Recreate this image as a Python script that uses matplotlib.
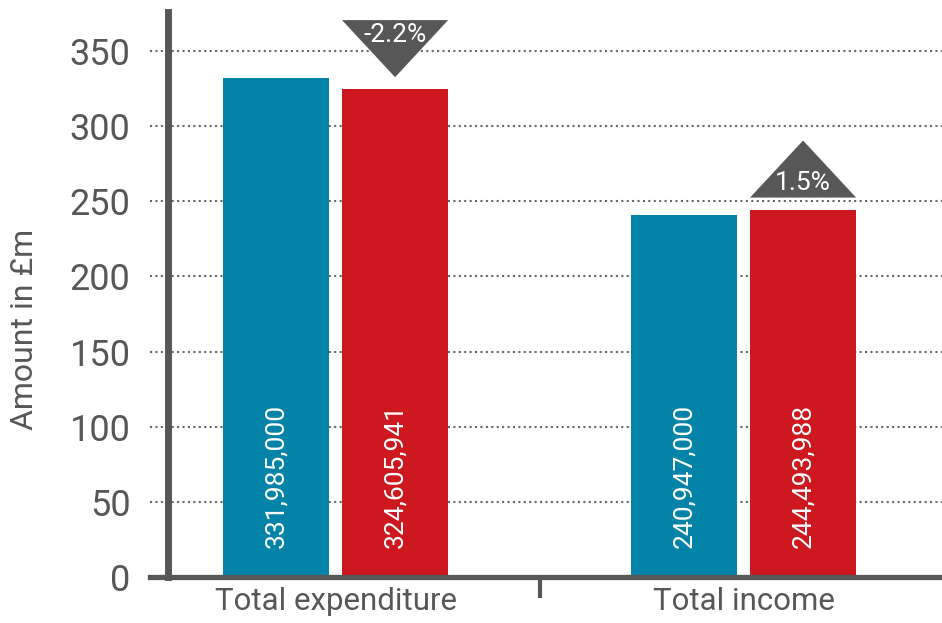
import matplotlib
matplotlib.use("Agg")
import matplotlib.pyplot as plt
import numpy as np

# Data (values in £)
categories = ["Total expenditure", "Total income"]
previous = [331985000, 240947000]
current = [324605941, 244493988]
yticks = [0, 50, 100, 150, 200, 250, 300, 350]

BLUE = "#0383A7"
RED = "#CC181E"
GREY = "#575757"
FONT = ["Liberation Sans Narrow", "Roboto", "DejaVu Sans"]

plt.rcParams["font.family"] = FONT

fig = plt.figure(figsize=(9.42, 6.23), dpi=100)
ax = fig.add_axes([150 / 942, 46 / 623, 792 / 942, 565 / 623])

x = np.arange(len(categories))
width = 0.26
offset = 0.146
prev_m = np.array(previous) / 1e6
curr_m = np.array(current) / 1e6

ax.bar(x - offset, prev_m, width, color=BLUE, zorder=3)
ax.bar(x + offset, curr_m, width, color=RED, zorder=3)

# Rotated value labels inside bars
for xi, v in zip(x - offset, previous):
    ax.text(xi, 19, f"{v:,}", rotation=90, ha="center", va="bottom",
            color="white", fontsize=19, zorder=4)
for xi, v in zip(x + offset, current):
    ax.text(xi, 19, f"{v:,}", rotation=90, ha="center", va="bottom",
            color="white", fontsize=19, zorder=4)

# Change markers above the current-year bars
gap, tri_h = 8, 38
for xi, p, c in zip(x + offset, prev_m, curr_m):
    change = (c - p) / p * 100
    left, right = xi - width / 2, xi + width / 2
    base_lo = c + gap
    base_hi = c + gap + tri_h
    if change < 0:
        xs = [left, right, xi]
        ys = [base_hi, base_hi, base_lo]
        ty = base_hi - 10
    else:
        xs = [left, right, xi]
        ys = [base_lo, base_lo, base_hi]
        ty = base_lo + 10
    ax.fill(xs, ys, color=GREY, zorder=4, lw=0)
    ax.text(xi, ty, f"{change:.1f}%", ha="center", va="center",
            color="white", fontsize=19, zorder=5)

ax.set_xlim(-0.4547, 1.4865)
ax.set_ylim(0, 376)

ax.set_yticks(yticks)
ax.set_yticklabels([str(t) for t in yticks])
ax.tick_params(axis="y", length=0, pad=27, labelsize=26, labelcolor=GREY)

ax.set_xticks(x)
ax.set_xticklabels(categories)
ax.tick_params(axis="x", which="major", length=0, pad=7, labelsize=22.5,
               labelcolor=GREY)
ax.set_xticks([0.5], minor=True)
ax.tick_params(axis="x", which="minor", length=15, width=3, color=GREY,
               direction="out")

ax.yaxis.grid(True, color="#666666", linestyle=(0, (1, 1.6)), lw=1.5, zorder=0)
ax.set_axisbelow(True)

for s in ["top", "right"]:
    ax.spines[s].set_visible(False)
ax.spines["left"].set_position(("axes", 18 / 792))
ax.spines["left"].set_linewidth(5)
ax.spines["left"].set_color(GREY)
ax.spines["left"].set_zorder(2)
ax.spines["bottom"].set_linewidth(3.8)
ax.spines["bottom"].set_color(GREY)
ax.spines["bottom"].set_zorder(6)

fig.text(25 / 942, 1 - 329 / 623, "Amount in £m", rotation=90, ha="center",
         va="center", color=GREY, fontsize=23)

fig.savefig("out.png", dpi=100)
